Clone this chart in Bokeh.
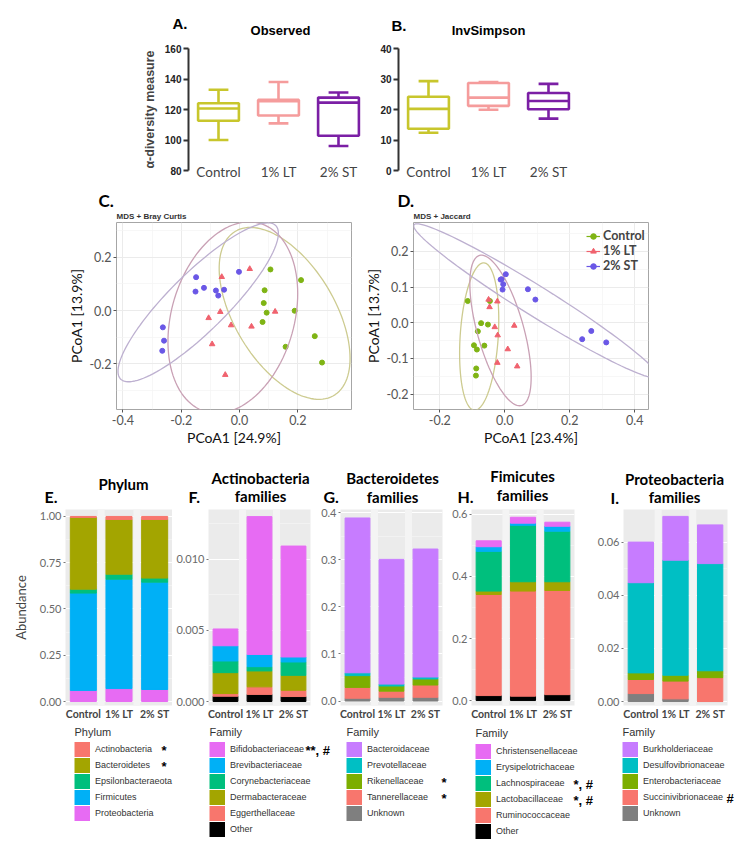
import numpy as np
from bokeh.plotting import figure
from bokeh.models import (ColumnDataSource, Range1d, FixedTicker, Label, Legend,
                          LegendItem, Span, PrintfTickFormatter)
from bokeh.layouts import column, row
from bokeh.embed import file_html
from bokeh.resources import INLINE

# ---------------- data ----------------
groups = ["Control", "1% LT", "2% ST"]

# A. Observed (alpha diversity) box statistics
observed_min = [100.0, 110.9, 96.1]
observed_q1 = [112.6, 116.1, 102.8]
observed_median = [120.7, 125.4, 124.5]
observed_q3 = [124.1, 126.3, 127.8]
observed_max = [133.0, 138.0, 131.1]

# B. InvSimpson box statistics
invsimpson_min = [12.4, 19.9, 17.0]
invsimpson_q1 = [13.7, 21.2, 20.1]
invsimpson_median = [20.2, 23.9, 22.8]
invsimpson_q3 = [24.2, 28.7, 25.4]
invsimpson_max = [29.3, 29.0, 28.4]

# C. MDS + Bray Curtis
bc_control_x = [0.106, 0.211, 0.086, 0.083, 0.093, 0.079, 0.189, 0.258, 0.158, 0.283]
bc_control_y = [0.154, 0.114, 0.076, 0.028, -0.008, -0.043, -0.001, -0.096, -0.136, -0.195]
bc_lt_x = [-0.061, 0.035, -0.106, -0.066, -0.029, 0.041, 0.122, -0.094, -0.049]
bc_lt_y = [0.126, 0.156, -0.028, -0.005, -0.055, -0.060, -0.004, -0.126, -0.241]
bc_st_x = [-0.149, -0.151, -0.122, -0.081, -0.073, -0.053, -0.002, -0.263, -0.259, -0.265]
bc_st_y = [0.125, 0.071, 0.085, 0.075, 0.056, 0.078, 0.145, -0.063, -0.113, -0.151]

# D. MDS + Jaccard
jc_control_x = [-0.114, -0.046, -0.073, -0.052, -0.083, -0.095, -0.063, -0.086, -0.088, -0.089]
jc_control_y = [0.061, 0.061, -0.001, -0.005, -0.024, -0.063, -0.064, -0.075, -0.128, -0.148]
jc_lt_x = [-0.050, -0.047, -0.023, -0.031, -0.022, 0.029, 0.009, -0.023, 0.038]
jc_lt_y = [0.065, 0.044, 0.060, -0.012, -0.035, -0.008, -0.074, -0.112, -0.122]
jc_st_x = [0.003, -0.013, -0.010, -0.005, -0.007, 0.071, 0.094, 0.238, 0.266, 0.312]
jc_st_y = [0.136, 0.121, 0.122, 0.108, 0.093, 0.094, 0.065, -0.046, -0.023, -0.055]

# E. Phylum abundance (legend order, top to bottom)
phylum_taxa = ["Actinobacteria", "Bacteroidetes", "Epsilonbacteraeota", "Firmicutes", "Proteobacteria"]
actinobacteria = [0.005, 0.016, 0.016]
bacteroidetes = [0.388, 0.296, 0.317]
epsilonbacteraeota = [0.021, 0.027, 0.022]
firmicutes = [0.526, 0.591, 0.580]
proteobacteria = [0.060, 0.070, 0.065]
phylum_marks = ["*", "*", "", "", ""]

# F. Actinobacteria families
actino_taxa = ["Bifidobacteriaceae", "Brevibacteriaceae", "Corynebacteriaceae",
               "Dermabacteraceae", "Eggerthellaceae", "Other"]
bifidobacteriaceae = [0.00118, 0.00969, 0.00780]
brevibacteriaceae = [0.00107, 0.00086, 0.00035]
corynebacteriaceae = [0.00082, 0.00030, 0.00094]
dermabacteraceae = [0.00147, 0.00112, 0.00105]
eggerthellaceae = [0.00019, 0.00053, 0.00044]
actino_other = [0.00037, 0.00050, 0.00035]
actino_marks = ["**, #", "", "", "", "", ""]

# G. Bacteroidetes families
bactero_taxa = ["Bacteroidaceae", "Prevotellaceae", "Rikenellaceae", "Tannerellaceae", "Unknown"]
bacteroidaceae = [0.329, 0.265, 0.272]
prevotellaceae = [0.006, 0.004, 0.004]
rikenellaceae = [0.025, 0.011, 0.013]
tannerellaceae = [0.023, 0.013, 0.026]
bactero_unknown = [0.006, 0.008, 0.008]
bactero_marks = ["", "", "*", "*", ""]

# H. Firmicutes families
firmi_taxa = ["Christensenellaceae", "Erysipelotrichaceae", "Lachnospiraceae",
              "Lactobacillaceae", "Ruminococcaceae", "Other"]
christensenellaceae = [0.019, 0.019, 0.013]
erysipelotrichaceae = [0.015, 0.007, 0.016]
lachnospiraceae = [0.128, 0.182, 0.163]
lactobacillaceae = [0.011, 0.030, 0.028]
ruminococcaceae = [0.326, 0.339, 0.336]
firmi_other = [0.016, 0.014, 0.019]
firmi_marks = ["", "", "*, #", "*, #", "", ""]

# I. Proteobacteria families
proteo_taxa = ["Burkholderiaceae", "Desulfovibrionaceae", "Enterobacteriaceae",
               "Succinivibrionaceae", "Unknown"]
burkholderiaceae = [0.0153, 0.0165, 0.0146]
desulfovibrionaceae = [0.0340, 0.0434, 0.0404]
enterobacteriaceae = [0.0025, 0.0022, 0.0026]
succinivibrionaceae = [0.0053, 0.0067, 0.0090]
proteo_unknown = [0.0030, 0.0010, 0.0000]
proteo_marks = ["", "", "", "#", ""]

# ---------------- styles ----------------
box_colors = ["#C8C62C", "#F59C9C", "#7B1FA5"]
pcoa_colors = ["#7FB414", "#F0626E", "#6A57E6"]
ellipse_colors = ["#CDCB90", "#C9A1B5", "#BDB0D0"]
pcoa_markers = ["circle", "triangle", "circle"]
pal5 = ["#F8766D", "#A3A500", "#00BF7D", "#00B0F6", "#E76BF3"]
pal4 = ["#F8766D", "#7CAE00", "#00BFC4", "#C77CFF"]
phylum_colors = [pal5[0], pal5[1], pal5[2], pal5[3], pal5[4]]
actino_colors = [pal5[4], pal5[3], pal5[2], pal5[1], pal5[0], "#000000"]
bactero_colors = [pal4[3], pal4[2], pal4[1], pal4[0], "#7F7F7F"]
firmi_colors = [pal5[4], pal5[3], pal5[2], pal5[1], pal5[0], "#000000"]
proteo_colors = [pal4[3], pal4[2], pal4[1], pal4[0], "#7F7F7F"]

CAL = "Lato"
ARIAL = "Liberation Sans"
xpos = [i + 0.5 for i in range(len(groups))]
PAGE = 8  # page offset of the layout (left / top)


def key_source():
    # a one-row source with no drawable point, used only for legend keys
    return ColumnDataSource(dict(x=[np.nan], y=[np.nan]))


def text_fig(height):
    p = figure(width=730, height=height, x_range=Range1d(0, 1), y_range=Range1d(0, 1),
               output_backend="svg", toolbar_location=None, x_axis_type=None,
               y_axis_type=None, min_border=0)
    p.outline_line_color = None
    return p


def tlabel(p, top, x, y, text, size, bold=True, font=CAL, color="black", align="left"):
    """Place a text at picture position (x, y) on a text strip whose top is `top`."""
    h = p.height
    p.add_layout(Label(x=x - PAGE, y=(top + h) - y, x_units="screen", y_units="screen",
                       text=text, text_font=font, text_font_size=f"{size}px",
                       text_font_style="bold" if bold else "normal",
                       text_color=color, text_align=align, text_baseline="middle"))


# ---------------- A / B box plots ----------------
def box_panel(width, bl, br, lo, q1, med, q3, hi, yr, yticks, ylabel=None):
    p = figure(width=width, height=146, x_range=Range1d(0, 3), y_range=Range1d(*yr),
               output_backend="svg", toolbar_location=None,
               min_border_left=bl, min_border_right=br, min_border_top=6,
               min_border_bottom=18)
    p.outline_line_color = None
    p.grid.visible = False
    bw, cw = 0.68, 0.33
    src = ColumnDataSource(dict(
        x=xpos, lo=lo, q1=q1, med=med, q3=q3, hi=hi, c=box_colors,
        xl=[v - bw / 2 for v in xpos], xr=[v + bw / 2 for v in xpos],
        cl=[v - cw / 2 for v in xpos], cr=[v + cw / 2 for v in xpos]))
    lw = 2.6
    p.segment(x0="x", y0="q3", x1="x", y1="hi", line_color="c", line_width=lw, source=src)
    p.segment(x0="x", y0="lo", x1="x", y1="q1", line_color="c", line_width=lw, source=src)
    p.segment(x0="cl", y0="hi", x1="cr", y1="hi", line_color="c", line_width=lw, source=src)
    p.segment(x0="cl", y0="lo", x1="cr", y1="lo", line_color="c", line_width=lw, source=src)
    p.vbar(x="x", width=bw, bottom="q1", top="q3", fill_color="white", line_color="c",
           line_width=lw, source=src)
    p.segment(x0="xl", y0="med", x1="xr", y1="med", line_color="c", line_width=lw, source=src)

    ya = p.yaxis[0]
    ya.ticker = FixedTicker(ticks=yticks)
    ya.axis_line_width = 2
    ya.axis_line_color = "#333333"
    ya.major_tick_line_width = 2
    ya.major_tick_line_color = "#333333"
    ya.major_tick_out = 5
    ya.major_tick_in = 0
    ya.minor_tick_out = 0
    ya.minor_tick_line_color = None
    ya.major_label_text_font = ARIAL
    ya.major_label_text_font_style = "bold"
    ya.major_label_text_font_size = "10px"
    ya.major_label_text_color = "#222222"
    ya.major_label_standoff = 2
    if ylabel:
        ya.axis_label = ylabel
        ya.axis_label_text_font = ARIAL
        ya.axis_label_text_font_style = "bold"
        ya.axis_label_text_font_size = "12.5px"
        ya.axis_label_standoff = 5
    xa = p.xaxis[0]
    xa.ticker = FixedTicker(ticks=xpos)
    xa.major_label_overrides = {x: g for x, g in zip(xpos, groups)}
    xa.axis_line_color = None
    xa.major_tick_line_color = None
    xa.minor_tick_line_color = None
    xa.major_tick_out = 0
    xa.minor_tick_out = 0
    xa.major_label_text_font = CAL
    xa.major_label_text_font_size = "13.5px"
    xa.major_label_standoff = -7
    return p


pA = box_panel(362, 180, 2, observed_min, observed_q1, observed_median, observed_q3,
               observed_max, (80, 160), [80, 100, 120, 140, 160],
               ylabel="\u03b1-diversity measure")
pB = box_panel(368, 28, 160, invsimpson_min, invsimpson_q1, invsimpson_median,
               invsimpson_q3, invsimpson_max, (0, 40), [0, 10, 20, 30, 40])

head1 = text_fig(34)
T1 = 8
tlabel(head1, T1, 172, 23, "A.", 15, font=ARIAL)
tlabel(head1, T1, 280, 30, "Observed", 13, font=ARIAL, align="center")
tlabel(head1, T1, 391, 25, "B.", 15, font=ARIAL)
tlabel(head1, T1, 488, 30, "InvSimpson", 13, font=ARIAL, align="center")


# ---------------- C / D PCoA ----------------
def ellipse_xy(x, y, level=0.95, npts=120):
    x = np.asarray(x, float)
    y = np.asarray(y, float)
    n = len(x)
    cov = np.cov(np.vstack([x, y]))
    df2 = n - 1
    fq = df2 / 2.0 * ((1 - level) ** (-2.0 / df2) - 1)
    r = np.sqrt(2 * fq)
    t = np.linspace(0, 2 * np.pi, npts)
    chol = np.linalg.cholesky(cov)
    pts = chol @ np.vstack([np.cos(t), np.sin(t)]) * r
    return x.mean() + pts[0], y.mean() + pts[1]


def pcoa_panel(width, bl, br, xr, yr, xt, xmt, yt, ymt, xlabel, ylabel, series,
               legend_loc=None):
    p = figure(width=width, height=229, x_range=Range1d(*xr), y_range=Range1d(*yr),
               output_backend="svg", toolbar_location=None,
               min_border_left=bl, min_border_right=br, min_border_top=1,
               min_border_bottom=41)
    p.outline_line_color = "#A6A6A6"
    p.outline_line_width = 1
    p.xaxis.ticker = FixedTicker(ticks=xt, minor_ticks=xmt)
    p.yaxis.ticker = FixedTicker(ticks=yt, minor_ticks=ymt)
    for g in (p.xgrid[0], p.ygrid[0]):
        g.grid_line_color = "#EBEBEB"
        g.grid_line_width = 1
        g.minor_grid_line_color = "#F4F4F4"
        g.minor_grid_line_width = 0.7
    for a in (p.xaxis[0], p.yaxis[0]):
        a.formatter = PrintfTickFormatter(format="%.1f")
        a.axis_line_color = None
        a.major_tick_line_color = "#555555"
        a.major_tick_out = 3
        a.major_tick_in = 0
        a.minor_tick_out = 0
        a.minor_tick_line_color = None
        a.major_label_text_font = CAL
        a.major_label_text_font_size = "12.5px"
        a.major_label_text_color = "#555555"
        a.major_label_standoff = 2
        a.axis_label_text_font = CAL
        a.axis_label_text_font_size = "14px"
        a.axis_label_text_font_style = "normal"
        a.axis_label_text_color = "#111111"
        a.axis_label_standoff = 1
    p.xaxis.axis_label = xlabel
    p.yaxis.axis_label = ylabel
    lg_items = []
    for (xs, ys), name, col, ecol, mk in zip(series, groups, pcoa_colors, ellipse_colors,
                                             pcoa_markers):
        ex, ey = ellipse_xy(xs, ys)
        p.line(ex, ey, line_color=ecol, line_width=1.3)
        rs = p.scatter(xs, ys, marker=mk, size=5.5 if mk == "triangle" else 5,
                       fill_color=col, line_color=col)
        rk = p.line("x", "y", source=key_source(), line_color=col, line_width=1.2)
        lg_items.append(LegendItem(label=name, renderers=[rk, rs]))
    if legend_loc is not None:
        lg = Legend(items=lg_items, location=legend_loc, padding=0, margin=0,
                    spacing=0, glyph_width=14, glyph_height=14, label_height=14,
                    label_standoff=3, label_text_font=CAL, label_text_font_style="bold",
                    label_text_font_size="12.5px", border_line_color=None,
                    background_fill_alpha=0)
        p.add_layout(lg)
    return p


pC = pcoa_panel(353, 108, 10, (-0.422, 0.384), (-0.371, 0.33),
                [-0.4, -0.2, 0.0, 0.2], [-0.3, -0.1, 0.1, 0.3],
                [-0.2, 0.0, 0.2], [-0.3, -0.1, 0.1, 0.3],
                "PCoA1 [24.9%]", "PCoA1 [13.9%]",
                [(bc_control_x, bc_control_y), (bc_lt_x, bc_lt_y), (bc_st_x, bc_st_y)])
pD = pcoa_panel(377, 52, 90, (-0.281, 0.442), (-0.243, 0.281),
                [-0.2, 0.0, 0.2, 0.4], [-0.1, 0.1, 0.3],
                [-0.2, -0.1, 0.0, 0.1, 0.2], [-0.15, -0.05, 0.05, 0.15, 0.25],
                "PCoA1 [23.4%]", "PCoA1 [13.7%]",
                [(jc_control_x, jc_control_y), (jc_lt_x, jc_lt_y), (jc_st_x, jc_st_y)],
                legend_loc=(173, 136))

head2 = text_fig(33)
T2 = 188
tlabel(head2, T2, 98, 200, "C.", 17)
tlabel(head2, T2, 116, 216, "MDS + Bray Curtis", 8, font=ARIAL, color="#333333")
tlabel(head2, T2, 397, 200, "D.", 17)
tlabel(head2, T2, 413, 216, "MDS + Jaccard", 8, font=ARIAL, color="#333333")


# ---------------- E - I stacked bars ----------------
def bar_panel(width, bl, br, taxa, values, colors, yr, ticks, minor, fmt, ylabel=None):
    p = figure(width=width, height=216, x_range=Range1d(0, 3), y_range=Range1d(*yr),
               output_backend="svg", toolbar_location=None,
               min_border_left=bl, min_border_right=br, min_border_top=3,
               min_border_bottom=16)
    p.background_fill_color = "#EBEBEB"
    p.outline_line_color = None
    for loc in (1.0, 2.0):
        p.add_layout(Span(location=loc, dimension="height", line_color="#F4F4F4",
                          line_width=7, level="underlay"))
    stack_names = list(reversed(taxa))
    stack_vals = list(reversed(values))
    stack_cols = list(reversed(colors))
    data = {"x": xpos}
    for n, v in zip(stack_names, stack_vals):
        data[n] = v
    src = ColumnDataSource(data)
    p.vbar_stack(stack_names, x="x", width=0.73, color=stack_cols, source=src)
    p.xgrid.visible = False
    yg = p.ygrid[0]
    yg.grid_line_color = "white"
    yg.grid_line_width = 1.1
    yg.minor_grid_line_color = "#F6F6F6"
    yg.minor_grid_line_width = 0.6
    ya = p.yaxis[0]
    ya.ticker = FixedTicker(ticks=ticks, minor_ticks=minor)
    ya.formatter = PrintfTickFormatter(format=fmt)
    ya.axis_line_color = None
    ya.major_tick_line_color = "#777777"
    ya.major_tick_out = 2
    ya.major_tick_in = 0
    ya.minor_tick_out = 0
    ya.minor_tick_line_color = None
    ya.major_label_text_font = CAL
    ya.major_label_text_font_size = "11px"
    ya.major_label_text_color = "#6A6A6A"
    ya.major_label_standoff = 2
    if ylabel:
        ya.axis_label = ylabel
        ya.axis_label_text_font = CAL
        ya.axis_label_text_font_size = "13px"
        ya.axis_label_text_font_style = "normal"
        ya.axis_label_standoff = 8
    xa = p.xaxis[0]
    xa.ticker = FixedTicker(ticks=xpos)
    xa.major_label_overrides = {x: g for x, g in zip(xpos, groups)}
    xa.axis_line_color = None
    xa.major_tick_line_color = None
    xa.minor_tick_line_color = None
    xa.major_tick_out = 0
    xa.minor_tick_out = 0
    xa.major_label_text_font = CAL
    xa.major_label_text_font_style = "bold"
    xa.major_label_text_font_size = "10.5px"
    xa.major_label_standoff = 2
    return p


pE = bar_panel(164, 57, 0, phylum_taxa,
               [actinobacteria, bacteroidetes, epsilonbacteraeota, firmicutes, proteobacteria],
               phylum_colors, (-0.0215, 1.0376), [0, 0.25, 0.5, 0.75, 1.0],
               [0.125, 0.375, 0.625, 0.875], "%.2f", ylabel="Abundance")
pF = bar_panel(140, 36, 2, actino_taxa,
               [bifidobacteriaceae, brevibacteriaceae, corynebacteriaceae, dermabacteraceae,
                eggerthellaceae, actino_other],
               actino_colors, (-0.00028, 0.0135), [0, 0.005, 0.010],
               [0.0025, 0.0075, 0.0125], "%.3f")
pG = bar_panel(132, 28, 2, bactero_taxa,
               [bacteroidaceae, prevotellaceae, rikenellaceae, tannerellaceae, bactero_unknown],
               bactero_colors, (-0.0095, 0.407), [0, 0.1, 0.2, 0.3, 0.4],
               [0.05, 0.15, 0.25, 0.35], "%.1f")
pH = bar_panel(132, 27, 2, firmi_taxa,
               [christensenellaceae, erysipelotrichaceae, lachnospiraceae, lactobacillaceae,
                ruminococcaceae, firmi_other],
               firmi_colors, (-0.016, 0.616), [0, 0.2, 0.4, 0.6], [0.1, 0.3, 0.5], "%.1f")
pI = bar_panel(162, 47, 11, proteo_taxa,
               [burkholderiaceae, desulfovibrionaceae, enterobacteriaceae,
                succinivibrionaceae, proteo_unknown],
               proteo_colors, (-0.0015, 0.0724), [0, 0.02, 0.04, 0.06], [0.01, 0.03, 0.05],
               "%.2f")

head3 = text_fig(56)
T3 = 450
tlabel(head3, T3, 123, 483, "Phylum", 15, align="center")
tlabel(head3, T3, 44, 496, "E.", 16)
tlabel(head3, T3, 260, 477, "Actinobacteria", 15, align="center")
tlabel(head3, T3, 260, 495.5, "families", 15, align="center")
tlabel(head3, T3, 188, 496, "F.", 16)
tlabel(head3, T3, 392, 477.5, "Bacteroidetes", 15, align="center")
tlabel(head3, T3, 392, 496, "families", 15, align="center")
tlabel(head3, T3, 323, 496, "G.", 16)
tlabel(head3, T3, 522, 475, "Fimicutes", 15, align="center")
tlabel(head3, T3, 522, 494, "families", 15, align="center")
tlabel(head3, T3, 457, 496, "H.", 16)
tlabel(head3, T3, 674, 478, "Proteobacteria", 15, align="center")
tlabel(head3, T3, 674, 496.5, "families", 15, align="center")
tlabel(head3, T3, 610, 496.5, "I.", 16)

# ---------------- legends row ----------------
pL = text_fig(117)
TL = 722


def make_legend(title, taxa, colors, marks, key_left, key_top, title_y, mark_x):
    items = []
    for n, c in zip(taxa, colors):
        r = pL.line("x", "y", source=key_source(), line_color=c, line_width=15)
        items.append(LegendItem(label=n, renderers=[r]))
    bottom_from_top = key_top + 16 * len(taxa)
    lg = Legend(items=items, location=(key_left - PAGE, (TL + pL.height) - bottom_from_top),
                padding=0, margin=0, spacing=0, glyph_width=16, glyph_height=16,
                label_height=16, label_standoff=5, label_text_font=ARIAL,
                label_text_font_size="9px", label_text_color="#333333",
                border_line_color=None, background_fill_alpha=0)
    pL.add_layout(lg)
    tlabel(pL, TL, key_left, title_y, title, 11, bold=False, font=ARIAL, color="#333333")
    for i, m in enumerate(marks):
        if m:
            tlabel(pL, TL, mark_x, key_top + 9 + 16 * i, m, 13, font=ARIAL)


make_legend("Phylum", phylum_taxa, phylum_colors, phylum_marks, 74, 741, 731, 161)
make_legend("Family", actino_taxa, actino_colors, actino_marks, 209, 741, 731, 305)
make_legend("Family", bactero_taxa, bactero_colors, bactero_marks, 346, 741, 731, 441)
make_legend("Family", firmi_taxa, firmi_colors, firmi_marks, 475, 743, 732, 573)
make_legend("Family", proteo_taxa, proteo_colors, proteo_marks, 622, 741, 731, 726)

layout = column(head1, row(pA, pB), head2, row(pC, pD), head3,
                row(pE, pF, pG, pH, pI), pL)
layout.margin = (8, 8, 8, 8)
open("out.html", "w").write(file_html(layout, INLINE))
